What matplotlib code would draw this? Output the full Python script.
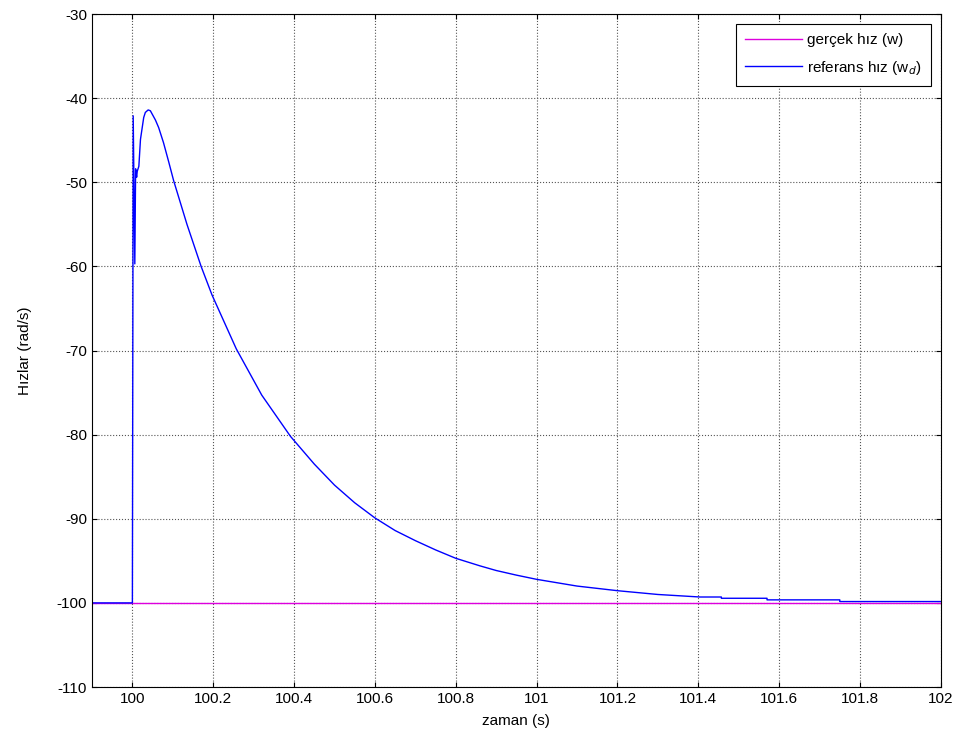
import numpy as np
import matplotlib.pyplot as plt

plt.rcParams['font.family'] = ['Liberation Sans', 'DejaVu Sans']
plt.rcParams['axes.unicode_minus'] = False

# gerçek hız (w): constant
w_t = [99.9, 102.0]
w_val = [-100, -100]

# referans hız (w_d)
wd_t = [99.9, 100.0, 100.002, 100.006, 100.008, 100.0105, 100.012, 100.016,
        100.020, 100.028, 100.032, 100.039, 100.0445, 100.057, 100.065,
        100.077, 100.090, 100.102, 100.135, 100.170, 100.197, 100.257,
        100.320, 100.391, 100.45, 100.5, 100.55, 100.6, 100.65, 100.7,
        100.75, 100.8, 100.86, 100.9, 100.95, 101.0, 101.1, 101.2, 101.3,
        101.404, 101.457, 101.457, 101.57, 101.57, 101.75, 101.75, 102.0]
wd_val = [-100, -100, -42.1, -59.7, -48.4, -49.4, -48.7, -48.1,
          -44.9, -42.3, -41.7, -41.4, -41.5, -42.6, -43.5,
          -45.3, -47.6, -49.8, -55.0, -60.0, -63.4, -69.8,
          -75.3, -80.2, -83.5, -86.0, -88.1, -89.9, -91.4, -92.6,
          -93.7, -94.7, -95.6, -96.15, -96.7, -97.2, -98.0, -98.55, -99.0,
          -99.3, -99.3, -99.45, -99.45, -99.64, -99.64, -99.84, -99.84]

fig = plt.figure(figsize=(9.63, 7.42), dpi=100)
ax = fig.add_axes([0.0955, 0.0741, 0.8815, 0.907])

ax.plot(w_t, w_val, color='#dd00dd', lw=1.0, label='gerçek hız (w)')
ax.plot(wd_t, wd_val, color='#0000ff', lw=1.0, label='referans hız (w$_d$)')

ax.set_xlim(99.9, 102)
ax.set_ylim(-110, -30)
ax.set_xticks(np.arange(100, 102.01, 0.2))
ax.set_xticklabels(['100', '100.2', '100.4', '100.6', '100.8', '101',
                    '101.2', '101.4', '101.6', '101.8', '102'])
ax.set_yticks(np.arange(-110, -29, 10))
ax.tick_params(direction='in', labelsize=11, top=True, right=True)
ax.grid(True, linestyle=':', color='#555555', lw=0.8)
ax.set_xlabel('zaman (s)', fontsize=11, labelpad=6)
ax.set_ylabel('Hızlar (rad/s)', fontsize=11, labelpad=18)

leg = ax.legend(loc='upper right', fontsize=11, fancybox=False,
                edgecolor='black', framealpha=1, handlelength=3.7,
                handletextpad=0.35, labelspacing=0.75, borderpad=0.6,
                borderaxespad=0.65)
leg.get_frame().set_linewidth(0.8)

fig.savefig('out.png', dpi=100)
